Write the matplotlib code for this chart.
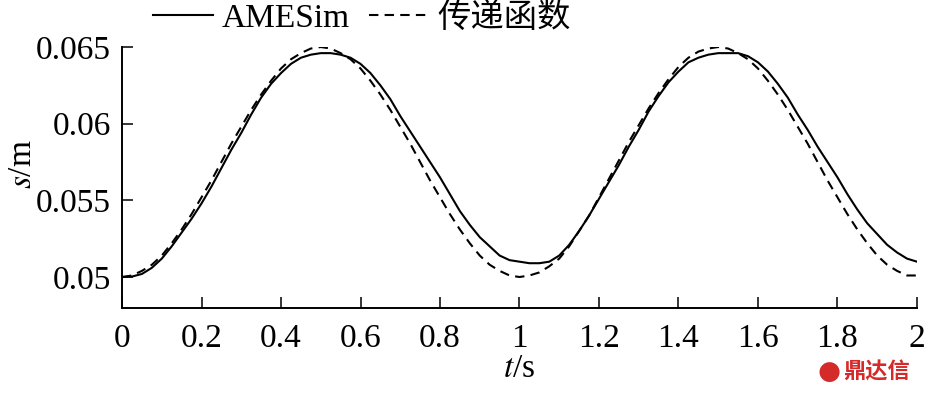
import numpy as np
import matplotlib.pyplot as plt

plt.rcParams['font.family'] = ['Liberation Serif', 'Noto Sans CJK SC']
plt.rcParams['mathtext.fontset'] = 'stix'

# time axis (s)
t = [0.000, 0.025, 0.050, 0.075, 0.100, 0.125, 0.150, 0.175, 0.200, 0.225,
     0.250, 0.275, 0.300, 0.325, 0.350, 0.375, 0.400, 0.425, 0.450, 0.475,
     0.500, 0.525, 0.550, 0.575, 0.600, 0.625, 0.650, 0.675, 0.700, 0.725,
     0.750, 0.775, 0.800, 0.825, 0.850, 0.875, 0.900, 0.925, 0.950, 0.975,
     1.000, 1.025, 1.050, 1.075, 1.100, 1.125, 1.150, 1.175, 1.200, 1.225,
     1.250, 1.275, 1.300, 1.325, 1.350, 1.375, 1.400, 1.425, 1.450, 1.475,
     1.500, 1.525, 1.550, 1.575, 1.600, 1.625, 1.650, 1.675, 1.700, 1.725,
     1.750, 1.775, 1.800, 1.825, 1.850, 1.875, 1.900, 1.925, 1.950, 1.975,
     2.000]

# displacement s (m)
amesim = [0.0500, 0.05003, 0.0502, 0.0506, 0.0512, 0.0520, 0.0529, 0.0538, 0.0548, 0.0559,
          0.0571, 0.0583, 0.0594, 0.0606, 0.0617, 0.0626, 0.0633, 0.0639, 0.0643, 0.0645,
          0.0646, 0.0646, 0.0645, 0.0643, 0.0639, 0.0633, 0.0625, 0.0616, 0.0605, 0.0595,
          0.0585, 0.0575, 0.0565, 0.0554, 0.0543, 0.0534, 0.0526, 0.0520, 0.0514, 0.0511,
          0.0510, 0.0509, 0.0509, 0.0510, 0.0514, 0.0521, 0.0530, 0.0540, 0.0551, 0.0562,
          0.0573, 0.0585, 0.0596, 0.0608, 0.0618, 0.0627, 0.0634, 0.0640, 0.0643, 0.0645,
          0.0646, 0.0646, 0.0646, 0.0644, 0.0640, 0.0634, 0.0626, 0.0617, 0.0606, 0.0596,
          0.0585, 0.0575, 0.0565, 0.0554, 0.0544, 0.0535, 0.0528, 0.0521, 0.0516, 0.0512,
          0.0510]
transfer = [0.0500, 0.0501, 0.0504, 0.0508, 0.0514, 0.0522, 0.0531, 0.0541, 0.0552, 0.0563,
            0.0575, 0.0587, 0.0598, 0.0609, 0.0619, 0.0628, 0.0636, 0.0642, 0.0646, 0.0649,
            0.0650, 0.0649, 0.0646, 0.0642, 0.0636, 0.0628, 0.0619, 0.0609, 0.0598, 0.0587,
            0.0575, 0.0563, 0.0552, 0.0541, 0.0531, 0.0522, 0.0514, 0.0508, 0.0504, 0.0501,
            0.0500, 0.0501, 0.0503, 0.0507, 0.0512, 0.0520, 0.0530, 0.0540, 0.0552, 0.0564,
            0.0576, 0.0588, 0.0599, 0.0610, 0.0620, 0.0629, 0.0637, 0.0643, 0.0647, 0.0649,
            0.0650, 0.0649, 0.0646, 0.0642, 0.0636, 0.0628, 0.0619, 0.0609, 0.0598, 0.0587,
            0.0575, 0.0563, 0.0552, 0.0541, 0.0531, 0.0522, 0.0514, 0.0508, 0.0504, 0.0501,
            0.0501]

xticks = [0, 0.2, 0.4, 0.6, 0.8, 1, 1.2, 1.4, 1.6, 1.8, 2]
xticklabels = ['0', '0.2', '0.4', '0.6', '0.8', '1', '1.2', '1.4', '1.6', '1.8', '2']
yticks = [0.05, 0.055, 0.06, 0.065]
yticklabels = ['0.05', '0.055', '0.06', '0.065']

fs = 24

fig = plt.figure(figsize=(9.33, 3.97), dpi=100)
ax = fig.add_axes([0.1308, 0.2242, 0.852, 0.6574])

ax.plot(t, amesim, color='black', lw=1.5, solid_joinstyle='round', label='AMESim')
ax.plot(t, transfer, color='black', lw=1.5, ls=(0, (4.5, 3)), label='传递函数')

ax.set_xlim(0, 2)
ax.set_ylim(0.04798, 0.065)
ax.set_xticks(xticks)
ax.set_xticklabels(xticklabels)
ax.set_yticks(yticks)
ax.set_yticklabels(yticklabels)

for side in ['top', 'right']:
    ax.spines[side].set_visible(False)
for side in ['left', 'bottom']:
    ax.spines[side].set_linewidth(1.4)
ax.tick_params(direction='in', length=8, width=1.1, labelsize=fs, colors='black')
ax.tick_params(axis='x', pad=11)
ax.tick_params(axis='y', pad=8)

ax.set_xlabel(r'$t$/s', fontsize=fs, labelpad=0)
ax.set_ylabel(r'$s$/m', fontsize=fs)
ax.yaxis.set_label_coords(-0.106, 0.55)

fig.legend(loc='center', bbox_to_anchor=(0.388, 0.955), ncol=2, frameon=False,
           fontsize=fs, handlelength=1.8, handletextpad=0.25, columnspacing=0.6,
           borderpad=0)

# watermark
fig.text(843 / 933, 1 - 372 / 397, '鼎达信', color='#d42a2a', fontsize=16, fontweight='bold',
         family='Noto Sans CJK SC', ha='left', va='center')
fig.text(829 / 933, 1 - 372 / 397, '●', color='#d42a2a', fontsize=19,
         family='DejaVu Sans', ha='center', va='center')

fig.savefig('out.png', dpi=100)
